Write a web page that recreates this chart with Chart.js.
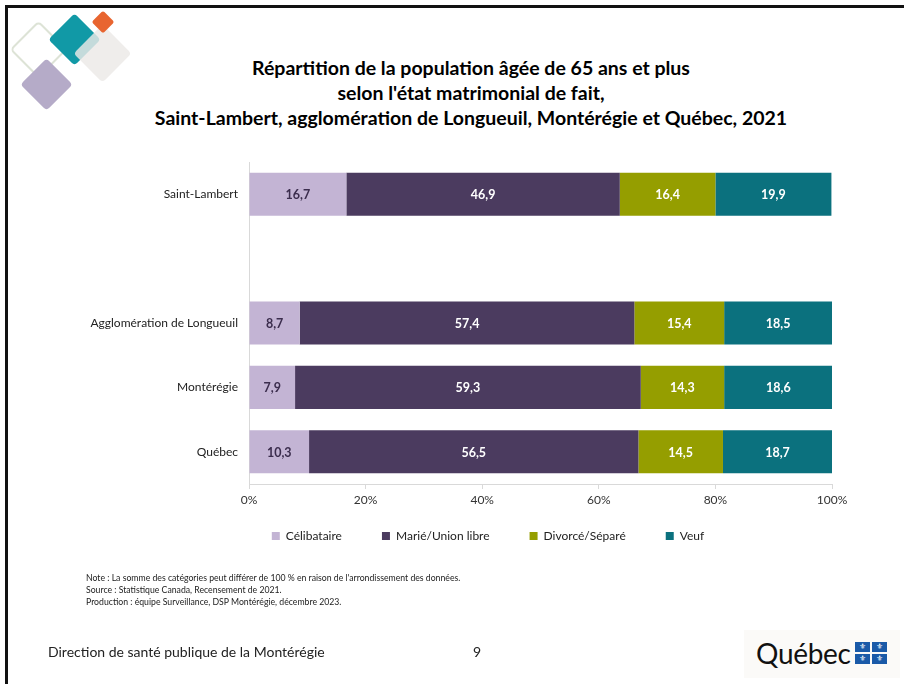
<!DOCTYPE html>
<html lang="fr">
<head>
<meta charset="utf-8">
<script src="https://cdn.jsdelivr.net/npm/chart.js@4.4.1/dist/chart.umd.min.js"></script>
<style>
  html, body { margin: 0; padding: 0; background: #fff; }
  body { width: 904px; height: 684px; position: relative; overflow: hidden; font-family: Lato, 'Noto Sans', sans-serif; color: #000; }
  #frame-top { position: absolute; left: 5px; top: 5px; width: 899px; height: 3px; background: #111; }
  #frame-left { position: absolute; left: 5px; top: 5px; width: 3px; height: 679px; background: #111; }
  .dia { position: absolute; transform: rotate(45deg); border-radius: 4px; }
  #title { position: absolute; left: 471px; top: 55px; transform: translateX(-50%); white-space: nowrap; text-align: center; font-weight: bold; font-size: 19.5px; line-height: 25px; }
  #notes { position: absolute; left: 86px; top: 572px; font-size: 8.7px; line-height: 12px; color: #222; }
  #footer { position: absolute; left: 48px; top: 643px; font-size: 14px; color: #222; }
  #page { position: absolute; left: 473px; top: 643px; font-size: 14px; color: #222; }
  #logo { position: absolute; left: 744px; top: 630px; width: 156px; height: 48px; background: #fbfaf8; }
  #logo span.q { position: absolute; left: 12px; top: 6px; font-family: Lato, sans-serif; font-size: 28px; letter-spacing: -0.3px; color: #111; }
  .fl { position: absolute; width: 15px; height: 10px; background: #1a5aa8; color: #fff; font-size: 8px; line-height: 10px; text-align: center; font-family: 'DejaVu Sans', sans-serif; }
  #chart { position: absolute; left: 0; top: 0; }
</style>
</head>
<body>
<div id="frame-top"></div>
<div id="frame-left"></div>

<div class="dia" style="left:18px;top:29px;width:37px;height:37px;border:2px solid #dde3d6;border-radius:5px;"></div>
<div class="dia" style="left:28px;top:66px;width:37px;height:37px;background:#b5abc8;"></div>
<div class="dia" style="left:56px;top:21px;width:37px;height:37px;background:#1199a6;"></div>
<div class="dia" style="left:82px;top:33px;width:41px;height:41px;background:rgba(236,233,231,0.82);"></div>
<div class="dia" style="left:95px;top:14px;width:16px;height:16px;background:#e86530;border-radius:2px;"></div>

<div id="title">Répartition de la population âgée de 65 ans et plus<br>selon l'état matrimonial de fait,<br>Saint-Lambert, agglomération de Longueuil, Montérégie et Québec, 2021</div>

<canvas id="chart" width="904" height="684"></canvas>

<div id="notes">Note : La somme des catégories peut différer de 100 % en raison de l'arrondissement des données.<br>Source : Statistique Canada, Recensement de 2021.<br>Production : équipe Surveillance, DSP Montérégie, décembre 2023.</div>
<div id="footer">Direction de santé publique de la Montérégie</div>
<div id="page">9</div>
<div id="logo">
  <span class="q">Québec</span>
  <div class="fl" style="left:111px;top:12px;">⚜</div>
  <div class="fl" style="left:128px;top:12px;">⚜</div>
  <div class="fl" style="left:111px;top:24px;">⚜</div>
  <div class="fl" style="left:128px;top:24px;">⚜</div>
</div>

<script>
const regions = ['Saint-Lambert', '', 'Agglomération de Longueuil', 'Montérégie', 'Québec']
const celibataire = [16.7, null, 8.7, 7.9, 10.3]
const marie = [46.9, null, 57.4, 59.3, 56.5]
const divorce = [16.4, null, 15.4, 14.3, 14.5]
const veuf = [19.9, null, 18.5, 18.6, 18.7]
const xTicks = [0, 20, 40, 60, 80, 100]

const FONT = 'Lato, "Noto Sans", sans-serif'

// valeurs au centre de chaque segment
const barLabels = {
  id: 'barLabels',
  afterDatasetsDraw(chart) {
    const c = chart.ctx
    c.save()
    c.font = `bold 12.5px ${FONT}`
    c.textAlign = 'center'
    c.textBaseline = 'middle'
    chart.data.datasets.forEach((ds, i) => {
      const meta = chart.getDatasetMeta(i)
      meta.data.forEach((bar, j) => {
        const v = ds.data[j]
        if (v == null) return
        const { x, y, base } = bar.getProps(['x', 'y', 'base'], true)
        c.fillStyle = ds.labelColor
        c.fillText(v.toFixed(1).replace('.', ','), (x + base) / 2, y + 1)
      })
    })
    c.restore()
  }
}

// place la légende comme dans l'original (un peu plus haut, centrée vers la gauche)
const legendShift = {
  id: 'legendShift',
  afterLayout(chart) {
    const lg = chart.legend
    lg.top -= 19
    lg.bottom -= 19
    lg.left = 144
    lg.right = 832
  }
}

const common = { barPercentage: 0.67, categoryPercentage: 1, borderWidth: 0 }

new Chart(document.getElementById('chart'), {
  type: 'bar',
  data: {
    labels: regions,
    datasets: [
      { label: 'Célibataire', data: celibataire, backgroundColor: '#c3b4d4', labelColor: '#3b2d4d', ...common },
      { label: 'Marié/Union libre', data: marie, backgroundColor: '#4b3b5f', labelColor: '#ffffff', ...common },
      { label: 'Divorcé/Séparé', data: divorce, backgroundColor: '#959e00', labelColor: '#ffffff', ...common },
      { label: 'Veuf', data: veuf, backgroundColor: '#0b717e', labelColor: '#ffffff', ...common }
    ]
  },
  options: {
    indexAxis: 'y',
    responsive: false,
    animation: false,
    layout: { padding: { left: 0, right: 72, top: 162, bottom: 113 } },
    scales: {
      x: {
        stacked: true,
        min: 0,
        max: 100,
        afterFit: (s) => { s.height = 25 },
        afterBuildTicks: (s) => { s.ticks = xTicks.map((v) => ({ value: v })) },
        grid: { display: true, drawOnChartArea: false, drawTicks: true, tickLength: 5, color: '#d9d9d9' },
        border: { display: true, color: '#d9d9d9' },
        ticks: { padding: 4, color: '#333', font: { family: FONT, size: 12 }, callback: (v) => v + '%' }
      },
      y: {
        stacked: true,
        afterFit: (s) => { s.width = 249 },
        grid: { display: false, drawTicks: false },
        border: { display: true, color: '#d9d9d9' },
        ticks: { padding: 11, color: '#222', font: { family: FONT, size: 12 } }
      }
    },
    plugins: {
      legend: {
        position: 'bottom',
        labels: {
          boxWidth: 8,
          boxHeight: 8,
          padding: 40,
          color: '#222',
          font: { family: FONT, size: 12 }
        }
      },
      title: { display: false },
      tooltip: { enabled: false }
    }
  },
  plugins: [barLabels, legendShift]
})
</script>
</body>
</html>
